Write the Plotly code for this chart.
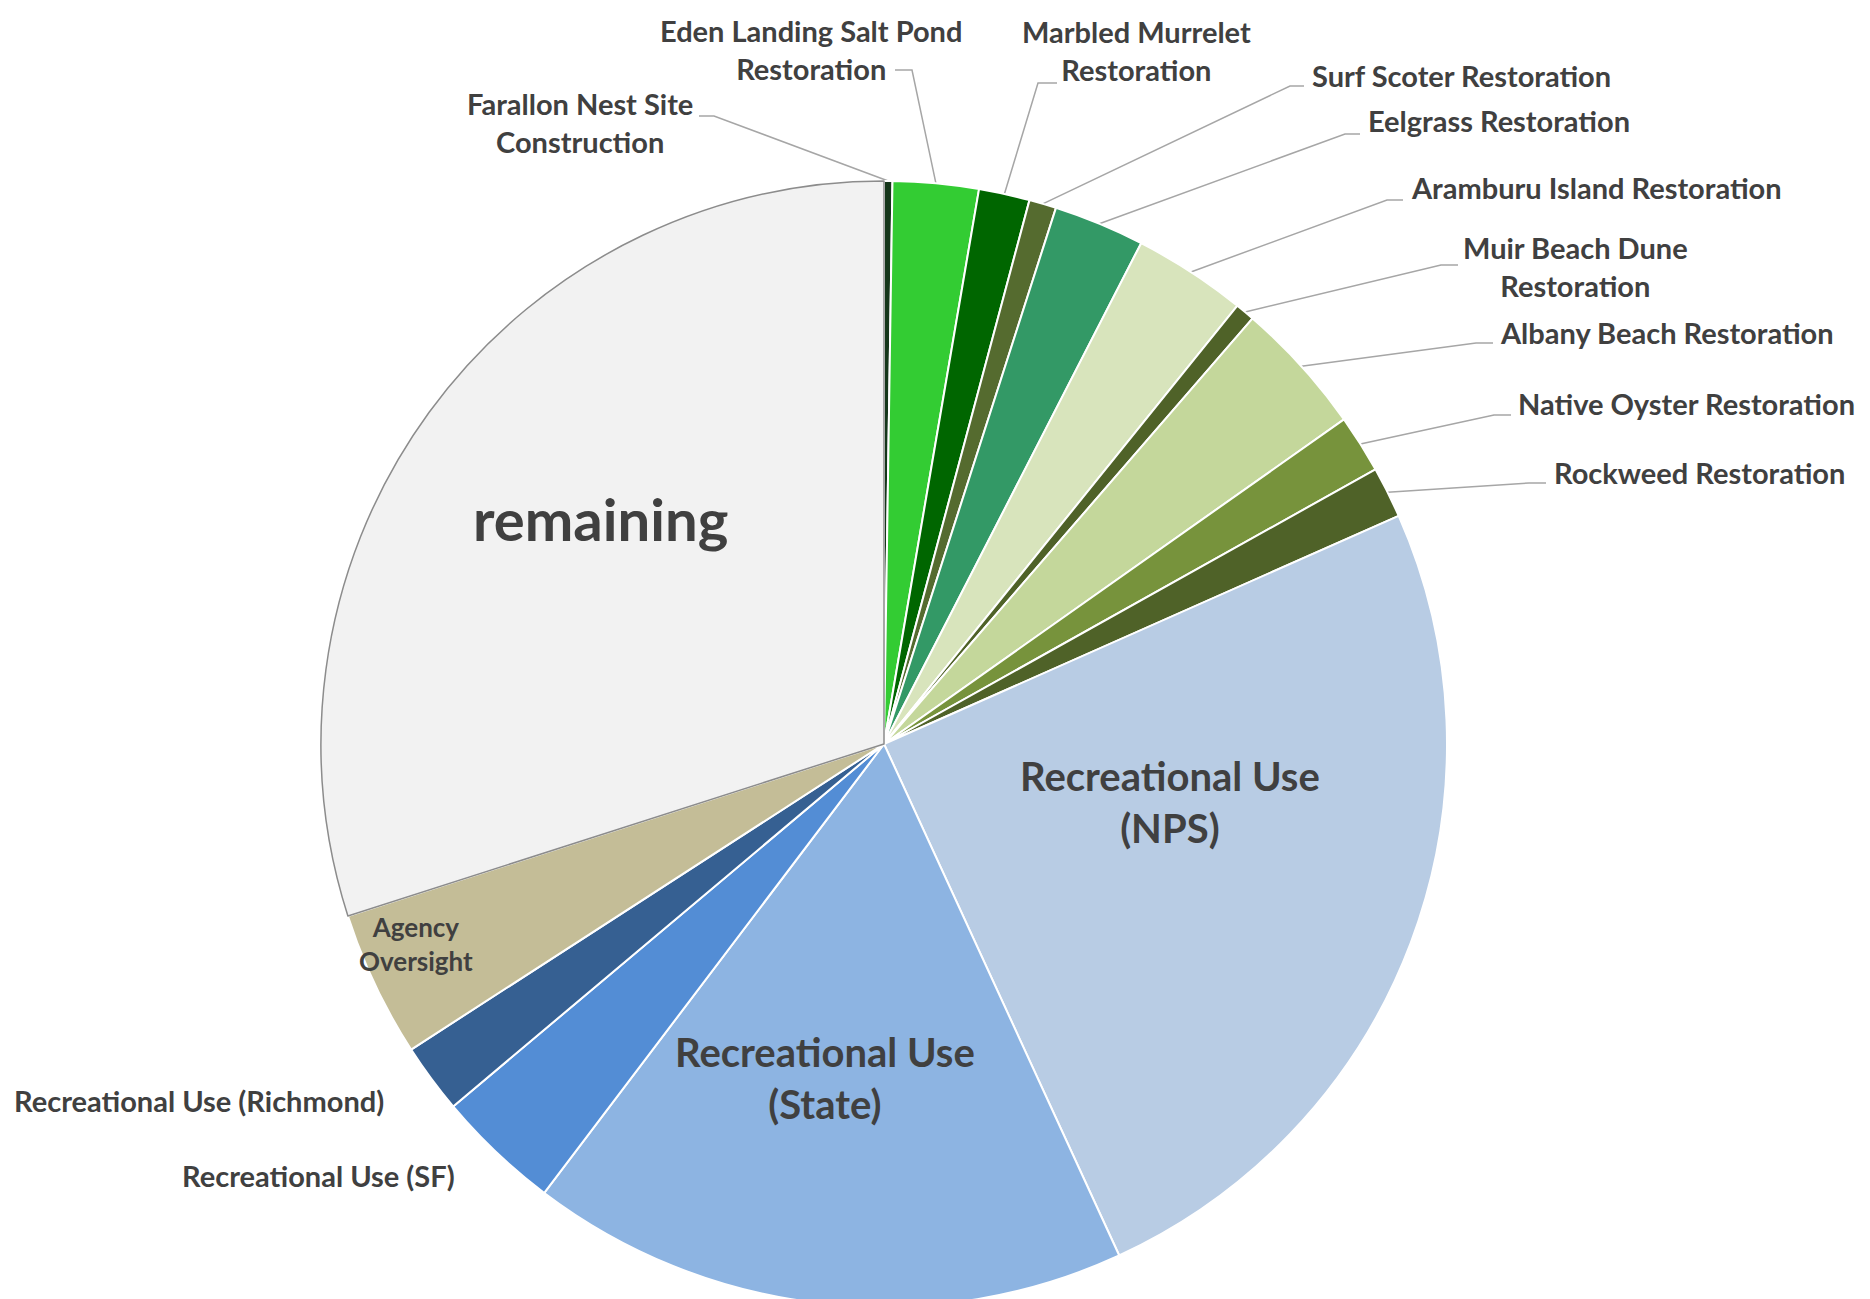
import math
import plotly.graph_objects as go

# ---------------- data ----------------
categories = [
    "Farallon Nest Site Construction",
    "Eden Landing Salt Pond Restoration",
    "Marbled Murrelet Restoration",
    "Surf Scoter Restoration",
    "Eelgrass Restoration",
    "Aramburu Island Restoration",
    "Muir Beach Dune Restoration",
    "Albany Beach Restoration",
    "Native Oyster Restoration",
    "Rockweed Restoration",
    "Recreational Use (NPS)",
    "Recreational Use (State)",
    "Recreational Use (SF)",
    "Recreational Use (Richmond)",
    "Agency Oversight",
    "remaining",
]
values = [0.24, 2.46, 1.46, 0.78, 2.61, 3.25, 0.56, 3.86, 1.67, 1.47,
          24.78, 17.17, 3.56, 2.00, 4.19, 29.94]
label_texts = [
    "Farallon Nest Site<br>Construction",
    "Eden Landing Salt Pond<br>Restoration",
    "Marbled Murrelet<br>Restoration",
    "Surf Scoter Restoration",
    "Eelgrass Restoration",
    "Aramburu Island Restoration",
    "Muir Beach Dune<br>Restoration",
    "Albany Beach Restoration",
    "Native Oyster Restoration",
    "Rockweed Restoration",
    "Recreational Use<br>(NPS)",
    "Recreational Use<br>(State)",
    "Recreational Use (SF)",
    "Recreational Use (Richmond)",
    "Agency<br>Oversight",
    "remaining",
]

# ---------------- styles ----------------
colors = ["#15361a", "#33cc33", "#006600", "#556b2f", "#339966", "#d8e4bc",
          "#4f6228", "#c4d79b", "#77933c", "#4f6228", "#b8cce4", "#8db4e2",
          "#538dd5", "#366092", "#c4bd97", "#f2f2f2"]
line_colors = ["#ffffff"] * 15 + ["#8c8c8c"]
line_widths = [2] * 15 + [1.5]

W, H = 1870, 1299
CX, CY, R = 876, 736, 563          # pie centre / radius in pixels
TXT = "#404040"
FONT = "Lato"
DX, DY = -10, -8                   # global label nudge

# label layout: (x, y, xanchor, size, leader anchor, leader elbow)
label_layout = {
    0:  (582, 122, "center", 29, (701, 116), (716, 116)),
    1:  (813, 49, "center", 29, (897, 70), (914, 70)),
    2:  (1138, 50, "center", 29, (1059, 83), (1040, 83)),
    3:  (1312, 75, "left", 29, (1306, 86), (1292, 86)),
    4:  (1368, 120, "left", 29, (1362, 134), (1347, 134)),
    5:  (1411, 187, "left", 29, (1405, 200), (1389, 200)),
    6:  (1577, 266, "center", 29, (1460, 265), (1443, 265)),
    7:  (1500, 332, "left", 29, (1495, 343), (1478, 343)),
    8:  (1518, 403, "left", 29, (1513, 415), (1496, 415)),
    9:  (1554, 472, "left", 29, (1548, 483), (1531, 483)),
    10: (1172, 802, "center", 40, None, None),
    11: (827, 1078, "center", 40, None, None),
    12: (182, 1175, "left", 29, None, None),
    13: (14, 1100, "left", 29, None, None),
    14: (418, 944, "center", 26, None, None),
    15: (602, 518, "center", 58, None, None),
}

fig = go.Figure()

fig.add_trace(go.Pie(
    labels=categories,
    values=values,
    sort=False,
    direction="clockwise",
    rotation=0,
    textinfo="none",
    hoverinfo="label+percent",
    marker=dict(colors=colors, line=dict(color=line_colors, width=line_widths)),
    domain=dict(x=[(CX - R) / W, (CX + R) / W], y=[1 - (CY + R) / H, 1 - (CY - R) / H]),
    showlegend=False,
))

# leader lines from slice mid-points (derived from the values)
total = sum(values)
cum = 0.0
annotations = []
for i, v in enumerate(values):
    mid = (cum + v / 2) / total * 360.0
    cum += v
    x, y, xa, size, anchor, elbow = label_layout[i]
    if anchor is not None:
        tx = CX + R * math.sin(math.radians(mid))
        ty = CY - R * math.cos(math.radians(mid))
        fig.add_trace(go.Scatter(
            x=[anchor[0] + DX, elbow[0] + DX, tx], y=[anchor[1] + DY, elbow[1] + DY, ty],
            mode="lines", line=dict(color="#a6a6a6", width=1.5),
            hoverinfo="skip", showlegend=False,
        ))
    annotations.append(dict(
        x=x + DX, y=y + DY, xref="x", yref="y", text=label_texts[i], showarrow=False,
        xanchor=xa, yanchor="middle", align="center",
        font=dict(family=FONT, size=size, color=TXT, weight="bold"),
    ))

fig.update_layout(
    width=W, height=H,
    margin=dict(l=0, r=0, t=0, b=0),
    paper_bgcolor="white", plot_bgcolor="rgba(0,0,0,0)",
    xaxis=dict(range=[0, W], visible=False, fixedrange=True),
    yaxis=dict(range=[H, 0], visible=False, fixedrange=True),
    annotations=annotations,
)

fig.write_html("out.html")
